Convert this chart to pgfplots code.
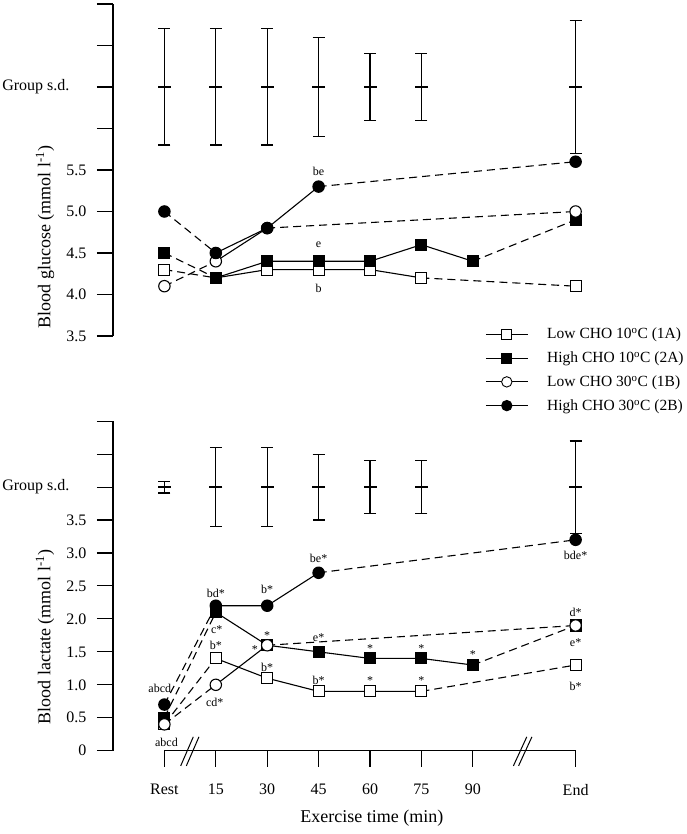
\documentclass[border=0pt]{standalone}
\usepackage{fontspec}
\setmainfont{Liberation Serif}
\usepackage{pgfplots}
\pgfplotsset{compat=1.18}
\usepackage{pgfplotstable}

% ---------- Blood glucose ----------
\pgfplotstableread{
x y
0 4.3
1 4.2
2 4.3
3 4.3
4 4.3
5 4.2
8 4.1
}\gA
\pgfplotstableread{
x y
0 4.5
1 4.2
2 4.4
3 4.4
4 4.4
5 4.6
6 4.4
8 4.9
}\gB
\pgfplotstableread{
x y
0 4.1
1 4.4
2 4.8
8 5.0
}\gC
\pgfplotstableread{
x y
0 5.0
1 4.5
2 4.8
3 5.3
8 5.6
}\gD
\pgfplotstableread{
x y e
0 6.5 0.7
1 6.5 0.7
2 6.5 0.7
3 6.5 0.6
4 6.5 0.4
5 6.5 0.4
8 6.5 0.8
}\gSD

% ---------- Blood lactate ----------
\pgfplotstableread{
x y
0 0.4
1 1.4
2 1.1
3 0.9
4 0.9
5 0.9
8 1.3
}\lA
\pgfplotstableread{
x y
0 0.5
1 2.1
2 1.6
3 1.5
4 1.4
5 1.4
6 1.3
8 1.9
}\lB
\pgfplotstableread{
x y
0 0.4
1 1.0
2 1.6
8 1.9
}\lC
\pgfplotstableread{
x y
0 0.7
1 2.2
2 2.2
3 2.7
8 3.2
}\lD
\pgfplotstableread{
x y e
0 4.0 0.09
1 4.0 0.6
2 4.0 0.6
3 4.0 0.5
4 4.0 0.4
5 4.0 0.4
8 4.0 0.7
}\lSD

\pgfplotsset{
  ln/.style={black, line width=1.1pt, mark=none},
  dl/.style={ln, dash pattern=on 8pt off 5pt},
  mOS/.style={only marks, mark=square*, mark size=5.5pt, mark options={draw=black, fill=white, line width=1.1pt, solid}},
  mFS/.style={only marks, mark=square*, mark size=5.5pt, mark options={draw=black, fill=black, line width=1.1pt, solid}},
  mOC/.style={only marks, mark=*, mark size=5.7pt, mark options={draw=black, fill=white, line width=1.1pt, solid}},
  mFC/.style={only marks, mark=*, mark size=5.7pt, mark options={draw=black, fill=black, line width=1.1pt, solid}},
  sdbar/.style={only marks, black, line width=1.2pt, mark=-, mark size=6.5pt,
    error bars/.cd, y dir=both, y explicit, error mark=-,
    error mark options={rotate=90, mark size=6pt, line width=1.2pt, black},
    error bar style={line width=1.2pt, black}},
  base/.style={
    x=51.4pt, xmin=-1, xmax=8.5, clip=false,
    axis y line*=left, ytick align=outside,
    major tick length=16pt,
    tick style={line width=1.1pt, black},
    axis line style={line width=1.1pt, black},
    tick label style={font=\fontsize{16}{19}\selectfont},
    yticklabel style={xshift=-7pt},
  },
}
\tikzset{ann/.style={font=\fontsize{12}{14}\selectfont}}

\begin{document}
\begin{tikzpicture}
\useasboundingbox (0pt,0pt) rectangle (686pt,834pt);

% ================= TOP: glucose =================
\begin{axis}[base,
  at={(113pt,498pt)}, anchor=south west,
  y=83pt, ymin=3.5, ymax=7.5,
  axis x line=none,
  ytick={3.5,4.0,4.5,5.0,5.5,6.0,6.5,7.0,7.5},
  yticklabels={3.5,4.0,4.5,5.0,5.5,,,,},
  ylabel={Blood glucose (mmol l\textsuperscript{-1})},
  every axis y label/.style={at={(axis description cs:-0.139,0.298)}, rotate=90, anchor=center, font=\fontsize{18}{21}\selectfont},
  legend entries={Low CHO 10\textsuperscript{o}C (1A),High CHO 10\textsuperscript{o}C (2A),Low CHO 30\textsuperscript{o}C (1B),High CHO 30\textsuperscript{o}C (2B)},
  legend style={at={(axis cs:6.24,3.62)}, anchor=north west, draw=none, fill=none,
    font=\fontsize{15.5}{18.5}\selectfont, inner sep=0pt, row sep=7.5pt, column sep=17pt, cells={anchor=west}},
  legend image code/.code={\draw[mark repeat=2,mark phase=2] plot coordinates {(0pt,0pt) (21pt,0pt) (42pt,0pt)};},
]
\addlegendimage{black, line width=0.9pt, mark=square*, mark size=5pt, mark options={fill=white}}
\addlegendimage{black, line width=0.9pt, mark=square*, mark size=5pt, mark options={fill=black}}
\addlegendimage{black, line width=0.9pt, mark=*, mark size=5.2pt, mark options={fill=white}}
\addlegendimage{black, line width=0.9pt, mark=*, mark size=5.2pt, mark options={fill=black}}

% group s.d.
\addplot[sdbar] table[x=x, y=y, y error=e] {\gSD};

% lines
\addplot[dl, restrict x to domain=0:1] table {\gA};
\addplot[ln, restrict x to domain=1:5] table {\gA};
\addplot[dl, restrict x to domain=5:8] table {\gA};
\addplot[dl, restrict x to domain=0:1] table {\gB};
\addplot[ln, restrict x to domain=1:6] table {\gB};
\addplot[dl, restrict x to domain=6:8] table {\gB};
\addplot[dl, restrict x to domain=0:1] table {\gC};
\addplot[ln, restrict x to domain=1:2] table {\gC};
\addplot[dl, restrict x to domain=2:8] table {\gC};
\addplot[dl, restrict x to domain=0:1] table {\gD};
\addplot[ln, restrict x to domain=1:3] table {\gD};
\addplot[dl, restrict x to domain=3:8] table {\gD};
% markers
\addplot[mOS] table {\gA};
\addplot[mFS] table {\gB};
\addplot[mOC] table {\gC};
\addplot[mFC] table {\gD};

\node[anchor=east, xshift=-40pt, font=\fontsize{16}{19}\selectfont] at (axis cs:-1,6.5) {Group s.d.};
\node[ann] at (axis cs:3,5.48) {be};
\node[ann] at (axis cs:3,4.6) {e};
\node[ann] at (axis cs:3,4.07) {b};
\end{axis}

% ================= BOTTOM: lactate =================
\begin{axis}[base,
  at={(113pt,83.3pt)}, anchor=south west,
  y=65.9pt, ymin=0, ymax=5,
  axis x line*=bottom, x axis line style={draw=none},
  xtick align=outside,
  xtick={0,1,2,3,4,5,6,8},
  xticklabels={Rest,15,30,45,60,75,90,End},
  xticklabel style={yshift=-14pt},
  ytick={0,0.5,1.0,1.5,2.0,2.5,3.0,3.5,4.0,4.5,5.0},
  yticklabels={0,0.5,1.0,1.5,2.0,2.5,3.0,3.5,,,},
  ylabel={Blood lactate (mmol l\textsuperscript{-1})},
  every axis y label/.style={at={(axis description cs:-0.139,0.345)}, rotate=90, anchor=center, font=\fontsize{18}{21}\selectfont},
  xlabel={Exercise time (min)},
  every axis x label/.style={at={(axis description cs:0.530,-0.204)}, anchor=center, font=\fontsize{18}{21}\selectfont},
]
% group s.d.
\addplot[sdbar] table[x=x, y=y, y error=e] {\lSD};

% lines
\addplot[dl, restrict x to domain=0:1] table {\lA};
\addplot[ln, restrict x to domain=1:5] table {\lA};
\addplot[dl, restrict x to domain=5:8] table {\lA};
\addplot[dl, restrict x to domain=0:1] table {\lB};
\addplot[ln, restrict x to domain=1:6] table {\lB};
\addplot[dl, restrict x to domain=6:8] table {\lB};
\addplot[dl, restrict x to domain=0:1] table {\lC};
\addplot[ln, restrict x to domain=1:2] table {\lC};
\addplot[dl, restrict x to domain=2:8] table {\lC};
\addplot[dl, restrict x to domain=0:1] table {\lD};
\addplot[ln, restrict x to domain=1:3] table {\lD};
\addplot[dl, restrict x to domain=3:8] table {\lD};
% markers
\addplot[mOS] table {\lA};
\addplot[mFS] table {\lB};
\addplot[mOC] table {\lC};
\addplot[mFC] table {\lD};

% x axis line with breaks
\draw[line width=1.1pt] (axis cs:0,0) -- (axis cs:8,0);
\draw[line width=1pt] (axis cs:0.317,-0.23) -- (axis cs:0.562,0.21);
\draw[line width=1pt] (axis cs:0.427,-0.23) -- (axis cs:0.672,0.21);
\draw[line width=1pt] (axis cs:6.79,-0.23) -- (axis cs:7.05,0.21);
\draw[line width=1pt] (axis cs:6.89,-0.23) -- (axis cs:7.15,0.21);

\node[anchor=east, xshift=-40pt, font=\fontsize{16}{19}\selectfont] at (axis cs:-1,4.0) {Group s.d.};

\node[ann] at (axis cs:-0.09,0.95) {abcd};
\node[ann] at (axis cs:0.04,0.12) {abcd};
\node[ann] at (axis cs:1,2.39) {bd*};
\node[ann] at (axis cs:1.02,1.83) {c*};
\node[ann] at (axis cs:1,1.6) {b*};
\node[ann] at (axis cs:0.98,0.74) {cd*};
\node[ann] at (axis cs:2,2.45) {b*};
\node[ann] at (axis cs:2,1.75) {*};
\node[ann] at (axis cs:1.76,1.54) {*};
\node[ann] at (axis cs:2,1.27) {b*};
\node[ann] at (axis cs:3,2.92) {be*};
\node[ann] at (axis cs:3,1.71) {e*};
\node[ann] at (axis cs:3,1.07) {b*};
\node[ann] at (axis cs:4,1.55) {*};
\node[ann] at (axis cs:5,1.55) {*};
\node[ann] at (axis cs:6,1.46) {*};
\node[ann] at (axis cs:4,1.06) {*};
\node[ann] at (axis cs:5,1.06) {*};
\node[ann] at (axis cs:8,2.97) {bde*};
\node[ann] at (axis cs:8,2.1) {d*};
\node[ann] at (axis cs:8,1.64) {e*};
\node[ann] at (axis cs:8,0.97) {b*};
\end{axis}
\end{tikzpicture}
\end{document}
